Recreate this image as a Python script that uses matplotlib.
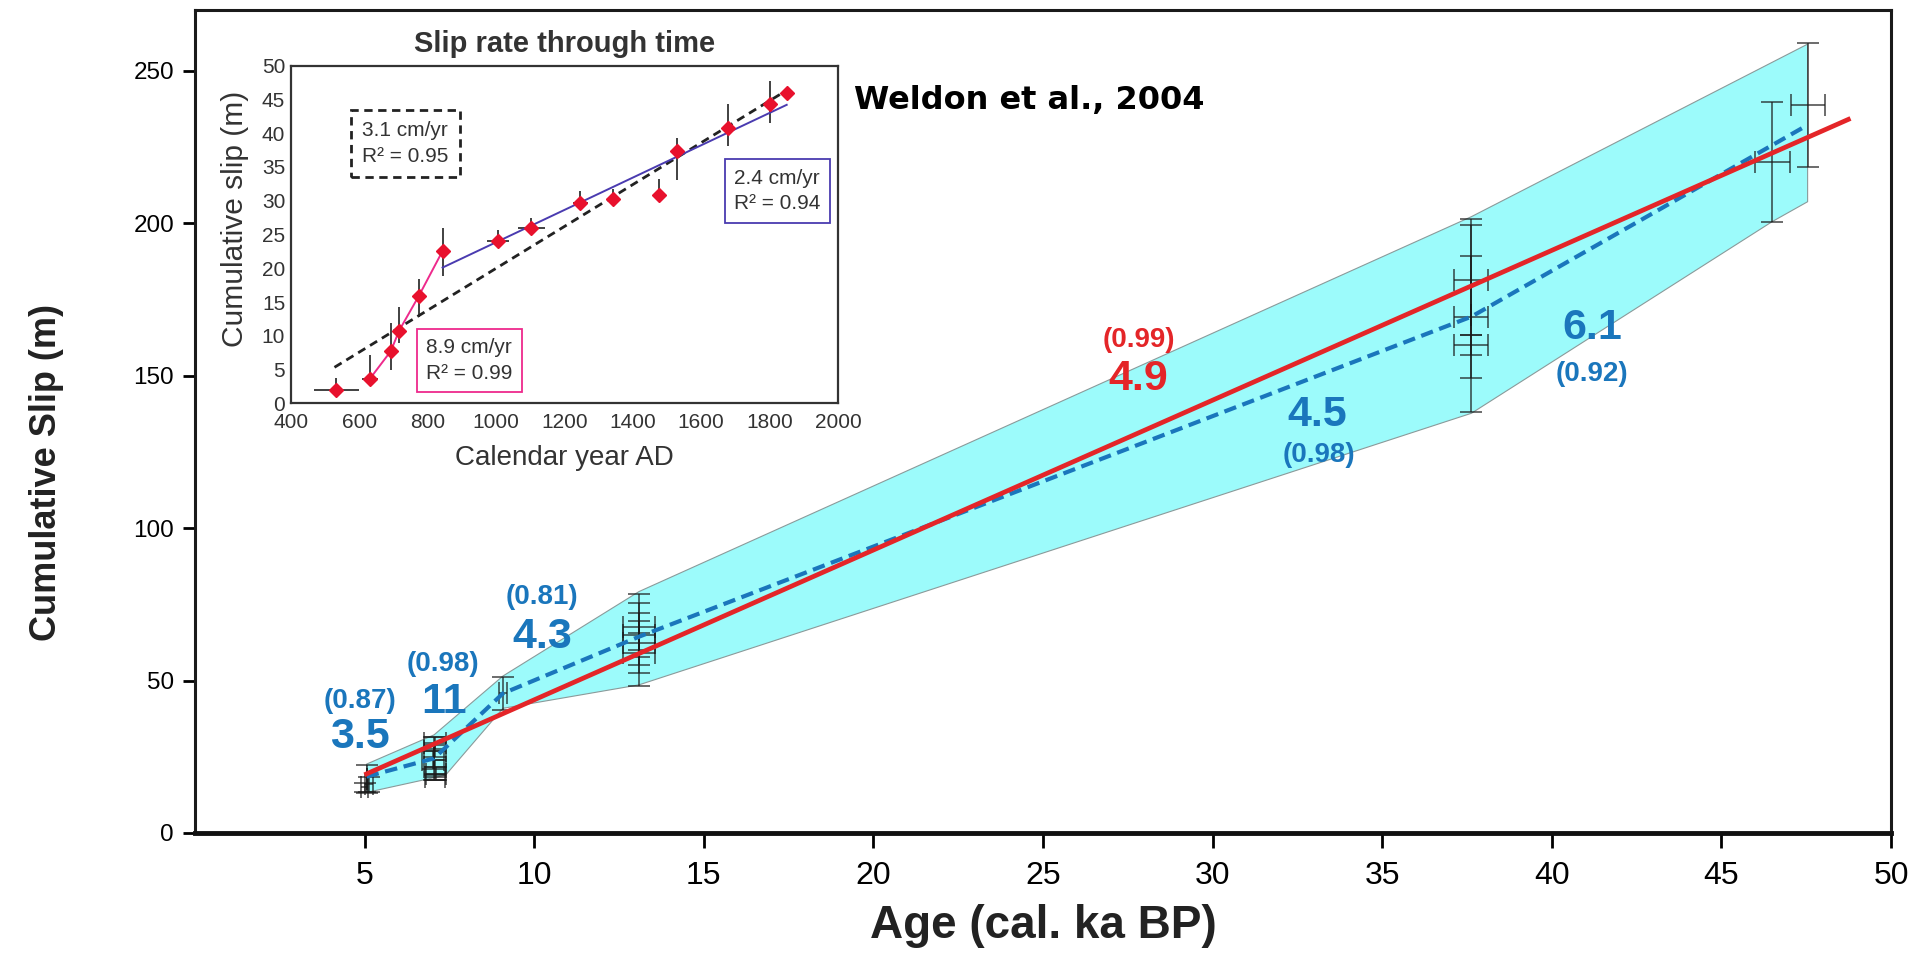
import matplotlib
matplotlib.use('Agg')
import matplotlib.pyplot as plt
import numpy as np

plt.rcParams['font.family'] = ['Liberation Sans', 'DejaVu Sans']
NARROW = ['Liberation Sans Narrow', 'Liberation Sans', 'DejaVu Sans']

BLUE = '#1a76bc'
RED = '#e42528'
CYAN = '#9cfbfb'

# ---- main chart: cumulative slip (m) vs age (cal. ka BP)
red_age = [5.06, 48.74]
red_slip = [19.4, 234.1]

blue_age = [5.06, 7.05, 9.08, 13.09, 37.63, 47.45]
blue_slip = [18.5, 24.5, 45.8, 64.4, 169.4, 231.7]

band_up_age = [5.06, 7.05, 9.08, 13.09, 37.63, 47.54]
band_up = [22.6, 32.2, 51.5, 79.2, 202.2, 258.8]
band_lo_age = [5.06, 7.39, 9.08, 13.09, 37.63, 46.5, 47.54]
band_lo = [13.3, 19.0, 40.9, 48.6, 137.7, 200.6, 207.1]

eb_age = [5.06, 5.12, 5.0, 7.05, 7.07, 7.07, 7.02, 7.07, 7.1, 7.07, 9.08,
          13.09, 13.09, 13.09, 13.09, 13.09, 37.63, 37.63, 37.63, 37.63, 46.5, 47.54]
eb_slip = [17.7, 16.0, 15.0, 24.5, 29.5, 27.0, 24.0, 21.5, 19.5, 18.5, 45.8,
           63.3, 67.7, 65.0, 62.4, 59.0, 169.8, 181.4, 169.4, 160.1, 220.2, 238.8]
eb_xerr = [0, 0.12, 0.1, 0, 0.32, 0.32, 0.32, 0.32, 0.3, 0.3, 0.12,
           0, 0.47, 0.47, 0.47, 0.47, 0, 0.5, 0.5, 0.5, 0.52, 0.5]
eb_yerr = [4.6, 2.5, 1.5, 7.1, 2.0, 2.0, 3.0, 2.5, 2.0, 1.0, 5.4,
           15.1, 7.7, 7.1, 7.3, 6.6, 31.6, 18.0, 20.0, 3.3, 19.7, 20.3]

# rate labels: (text, age, slip, colour, size)
labels = [('(0.87)', 4.86, 43.3, BLUE, 20), ('3.5', 4.86, 31.6, BLUE, 31),
          ('(0.98)', 7.32, 55.4, BLUE, 20), ('11', 7.34, 43.1, BLUE, 31),
          ('(0.81)', 10.24, 77.5, BLUE, 20), ('4.3', 10.24, 64.4, BLUE, 31),
          ('(0.99)', 27.82, 161.7, RED, 20), ('4.9', 27.82, 148.8, RED, 31),
          ('4.5', 33.08, 137.1, BLUE, 31), ('(0.98)', 33.14, 124.1, BLUE, 20),
          ('6.1', 41.2, 165.8, BLUE, 31), ('(0.92)', 41.17, 150.7, BLUE, 20)]

# ---- inset: cumulative slip (m) vs calendar year AD
yr = [533, 631, 693, 717, 775, 844, 1006, 1103, 1247, 1341, 1476, 1528, 1677, 1802, 1850]
cum = [1.9, 3.6, 7.75, 10.76, 15.94, 22.56, 24.1, 25.9, 29.6, 30.2, 30.9, 37.3, 40.7, 44.3, 45.9]
yr_err = [66, 24, 0, 0, 0, 0, 31, 39, 22, 0, 0, 0, 0, 0, 0]
cum_lo = [0.5, 0.3, 2.85, 1.86, 3.14, 3.76, 0.5, 0.5, 0.5, 0.3, 0.0, 4.3, 2.6, 2.8, 0]
cum_hi = [1.8, 3.56, 4.1, 3.44, 2.46, 3.34, 1.6, 1.6, 1.9, 1.6, 2.3, 2.0, 3.6, 3.5, 0]
fast_idx = [1, 2, 3, 4, 5]
slow_yr = [844, 1850]
slow_cum = [20.1, 44.2]
all_yr = [528, 1850]
all_cum = [5.33, 46.35]

fig = plt.figure(figsize=(19.15, 9.6), dpi=100)
ax = fig.add_axes([0.1018, 0.1323, 0.8857, 0.8573])

ax.fill(band_up_age + band_lo_age[::-1], band_up + band_lo[::-1],
        facecolor=CYAN, edgecolor='#8a9a9a', lw=0.8, zorder=1)
ax.errorbar(eb_age, eb_slip, xerr=eb_xerr, yerr=eb_yerr, fmt='none',
            ecolor='#1a1a1a', elinewidth=1.2, capsize=8, capthick=1.2,
            alpha=0.75, zorder=2)
ax.plot(blue_age, blue_slip, color=BLUE, lw=3, dashes=(3, 1.6), zorder=3)
ax.plot(red_age, red_slip, color=RED, lw=3.4, zorder=4)

for txt, x, y, c, s in labels:
    ax.text(x, y, txt, color=c, fontsize=s, fontweight='bold',
            ha='center', va='center', zorder=5)

ax.text(0.492, 0.8906, 'Weldon et al., 2004', transform=ax.transAxes,
        family='DejaVu Sans', fontweight='bold', fontsize=23,
        ha='center', va='center')

ax.set_xlim(0, 50)
ax.set_ylim(0, 270)
ax.set_xticks(np.arange(5, 51, 5))
ax.set_yticks(np.arange(0, 251, 50))
ax.tick_params(axis='x', direction='out', length=11, width=2, pad=9,
               labelsize=23, labelfontfamily=NARROW)
ax.tick_params(axis='y', direction='out', length=9, width=2, pad=6,
               labelsize=17.5)
for side in ['left', 'top', 'right']:
    ax.spines[side].set_linewidth(2.2)
    ax.spines[side].set_color('#1a1a1a')
ax.spines['bottom'].set_linewidth(3.5)
ax.spines['bottom'].set_color('#111111')

ax.set_xlabel('Age (cal. ka BP)', fontsize=33, fontweight='bold', color='#222222')
ax.xaxis.set_label_coords(0.5, -0.0863)
ax.set_ylabel('Cumulative Slip (m)', fontsize=26, fontweight='bold', color='#222222')
ax.yaxis.set_label_coords(-0.077, 0.4376)

# inset
ax_in = fig.add_axes([0.1518, 0.5799, 0.2858, 0.3517])
ax_in.errorbar(yr, cum, xerr=yr_err, yerr=[cum_lo, cum_hi], fmt='none',
               ecolor='#333333', elinewidth=1.3, capsize=0, zorder=2)
ax_in.plot(all_yr, all_cum, color='#222222', lw=2, dashes=(3, 2), zorder=3)
ax_in.plot([yr[i] for i in fast_idx], [cum[i] for i in fast_idx],
           color='#ee2a8c', lw=1.4, zorder=3)
ax_in.plot(slow_yr, slow_cum, color='#4a3bb0', lw=1.4, zorder=3)
ax_in.plot(yr, cum, 'D', color='#e8112d', markersize=7.5, zorder=4)

box_kw = dict(family='Liberation Sans', fontsize=15, ha='center', va='center',
              linespacing=1.45, color='#333333')
ax_in.text(735, 38.45, '3.1 cm/yr\nR\u00b2 = 0.95', **box_kw,
           bbox=dict(boxstyle='square,pad=0.55', fc='white', ec='#222222',
                     ls=(0, (3, 2)), lw=2))
ax_in.text(1822, 31.45, '2.4 cm/yr\nR\u00b2 = 0.94', **box_kw,
           bbox=dict(boxstyle='square,pad=0.45', fc='white', ec='#4a3bb0', lw=1.3))
ax_in.text(922, 6.35, '8.9 cm/yr\nR\u00b2 = 0.99', **box_kw,
           bbox=dict(boxstyle='square,pad=0.45', fc='white', ec='#ee2a8c', lw=1.3))

ax_in.set_xlim(400, 2000)
ax_in.set_ylim(0, 50)
ax_in.set_xticks(np.arange(400, 2001, 200))
ax_in.set_yticks(np.arange(0, 51, 5))
ax_in.tick_params(axis='x', length=0, pad=7, labelsize=15, labelcolor='#333333')
ax_in.tick_params(axis='y', length=0, pad=4, labelsize=15, labelcolor='#333333')
for sp in ax_in.spines.values():
    sp.set_linewidth(1.6)
    sp.set_color('#333333')
ax_in.set_title('Slip rate through time', fontweight='bold',
                fontsize=21, color='#333333', pad=10)
ax_in.set_xlabel('Calendar year AD', fontsize=20, color='#333333')
ax_in.xaxis.set_label_coords(0.5, -0.1235)
ax_in.set_ylabel('Cumulative slip (m)', fontsize=21.5, color='#333333')
ax_in.yaxis.set_label_coords(-0.076, 0.546)

fig.savefig('out.png', dpi=100)
